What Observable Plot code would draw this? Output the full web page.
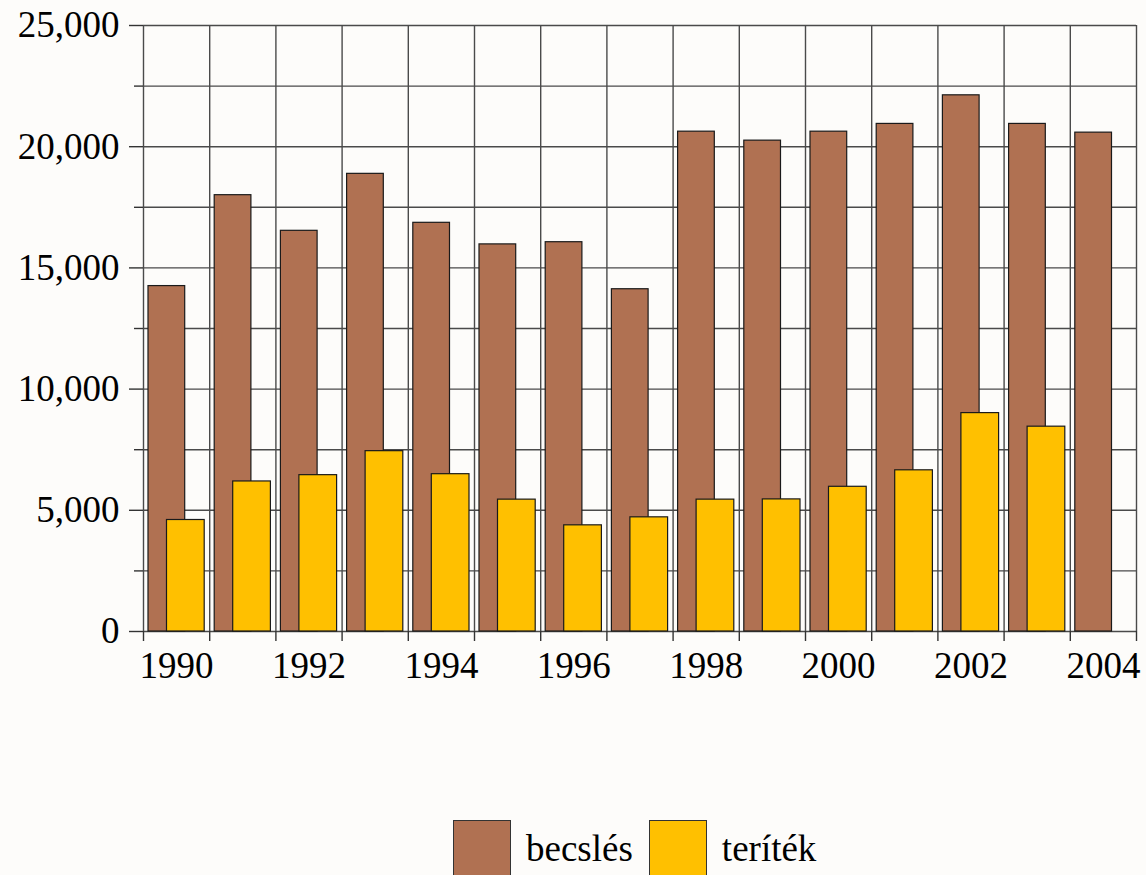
<!DOCTYPE html>
<html>
<head>
<meta charset="utf-8">
<script src="https://cdn.jsdelivr.net/npm/d3@7"></script>
<script src="https://cdn.jsdelivr.net/npm/@observablehq/plot@0.6"></script>
<style>
  html, body { margin: 0; padding: 0; background: #fdfcfa; }
  body { width: 1146px; height: 875px; overflow: hidden; font-family: "Liberation Serif", "DejaVu Serif", serif; }
  #chart svg { display: block; }
  #legend { display: flex; align-items: flex-start; padding-top: 30px; margin-left: 453px; }
  .sw { width: 58px; height: 58px; border: 1px solid #333; box-sizing: border-box; }
  .lab { font-size: 37px; line-height: 58px; color: #000; margin-left: 15px; margin-right: 16px; }
</style>
</head>
<body>
<div id="chart"></div>
<div id="legend"></div>
<script>
const years = [1990, 1991, 1992, 1993, 1994, 1995, 1996, 1997, 1998, 1999, 2000, 2001, 2002, 2003, 2004];
const becsles = [14250, 18000, 16530, 18880, 16860, 15970, 16060, 14120, 20620, 20250, 20620, 20940, 22120, 20940, 20580];
const teritek = [4600, 6190, 6450, 7440, 6490, 5440, 4380, 4710, 5440, 5450, 5970, 6650, 9010, 8450, null];
const seriesNames = ["becslés", "teríték"];
const seriesColors = ["#b07152", "#ffc000"];
const yMajorTicks = [0, 5000, 10000, 15000, 20000, 25000];
const yMinorTicks = [2500, 7500, 12500, 17500, 22500];
const xLabelYears = [1990, 1992, 1994, 1996, 1998, 2000, 2002, 2004];

const dataB = years.map((year, i) => ({year, value: becsles[i]}));
const dataT = years.map((year, i) => ({year, value: teritek[i]})).filter(d => d.value != null);
const yGrid = [...yMajorTicks, ...yMinorTicks];
const xBounds = [...years.map(y => y - 0.5), years[years.length - 1] + 0.5];

const chart = Plot.plot({
  width: 1146,
  height: 790,
  marginLeft: 143,
  marginRight: 10,
  marginTop: 25,
  marginBottom: 159,
  style: { fontFamily: "Liberation Serif", fontSize: "37px", background: "transparent", color: "#000", overflow: "visible" },
  x: { type: "linear", domain: [years[0] - 0.5, years[years.length - 1] + 0.5] },
  y: { domain: [0, 25000] },
  marks: [
    Plot.ruleY(yGrid, { stroke: "#4a4a4a", strokeWidth: 1.4 }),
    Plot.ruleX(xBounds, { stroke: "#4a4a4a", strokeWidth: 1.4 }),
    Plot.rectY(dataB, { x1: d => d.year - 0.5, x2: d => d.year + 0.5, y: "value", insetLeft: 5, insetRight: 24.5, fill: seriesColors[0], stroke: "#1a1a1a", strokeWidth: 1.2 }),
    Plot.rectY(dataT, { x1: d => d.year - 0.5, x2: d => d.year + 0.5, y: "value", insetLeft: 23.5, insetRight: 5, fill: seriesColors[1], stroke: "#1a1a1a", strokeWidth: 1.2 }),
    Plot.axisY({ ticks: yMajorTicks, tickSize: 14, tickPadding: 10, tickFormat: d3.format(","), stroke: "#333", strokeWidth: 1.4, label: null, fontSize: 37 }),
    Plot.axisY({ ticks: yMinorTicks, tickSize: 9, tickFormat: () => "", stroke: "#333", strokeWidth: 1.4, label: null }),
    Plot.axisX({ ticks: xBounds, tickSize: 10, tickFormat: () => "", stroke: "#333", strokeWidth: 1.4, label: null }),
    Plot.axisX({ ticks: xLabelYears, tickSize: 0, tickPadding: 20, tickFormat: d => String(d), label: null, fontSize: 37 })
  ]
});
document.getElementById("chart").appendChild(chart);

const legend = document.getElementById("legend");
seriesNames.forEach((name, i) => {
  const sw = document.createElement("div");
  sw.className = "sw";
  sw.style.background = seriesColors[i];
  const lab = document.createElement("div");
  lab.className = "lab";
  lab.textContent = name;
  legend.appendChild(sw);
  legend.appendChild(lab);
});
</script>
</body>
</html>
